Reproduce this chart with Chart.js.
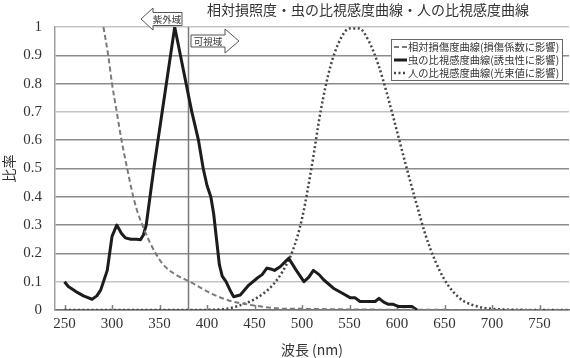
<!DOCTYPE html>
<html>
<head>
<meta charset="utf-8">
<script src="https://cdn.jsdelivr.net/npm/chart.js@4"></script>
<style>
  html, body { margin: 0; padding: 0; background: #fff; }
  #wrap { width: 570px; height: 358px; position: relative; }
</style>
</head>
<body>
<div id="wrap"><canvas id="spectrumChart"></canvas></div>
<script>
const chartTitle = "相対損照度・虫の比視感度曲線・人の比視感度曲線";
const xTitle = "波長 (nm)";
const yTitle = "比率";
const xTicks = [250, 300, 350, 400, 450, 500, 550, 600, 650, 700, 750];
const uvBoundary = 380;
const uvLabel = "紫外域";
const visLabel = "可視域";

// 相対損傷度曲線
const damageNm  = [291, 296, 300, 305, 310, 316, 321, 326, 332, 339, 346, 354, 367, 382, 404, 425, 446, 467, 477, 500, 550, 600, 650, 700, 780];
const damageVal = [1.0, 0.9, 0.8, 0.7, 0.6, 0.5, 0.42, 0.355, 0.3, 0.245, 0.2, 0.16, 0.125, 0.1, 0.059, 0.032, 0.018, 0.008, 0.005, 0.004, 0.002, 0.001, 0.0005, 0, 0];

// 虫の比視感度曲線
const insectNm  = [250, 254, 262, 270, 279, 284, 288, 295, 300, 305, 310, 314, 320, 326, 330, 333, 336, 340, 344, 366, 372, 378, 384, 391, 396, 400, 404, 407, 410, 413, 416, 420, 425, 428, 435, 444, 453, 458, 463, 467, 471, 477, 484, 486, 494, 502, 507, 512, 518, 523, 533, 542, 551, 556, 561, 577, 581, 586, 591, 596, 602, 616, 621];
const insectVal = [0.10, 0.083, 0.065, 0.05, 0.038, 0.05, 0.07, 0.14, 0.26, 0.30, 0.27, 0.255, 0.25, 0.25, 0.248, 0.265, 0.30, 0.40, 0.50, 1.0, 0.9, 0.8, 0.7, 0.6, 0.5, 0.44, 0.40, 0.34, 0.25, 0.16, 0.12, 0.10, 0.065, 0.047, 0.053, 0.088, 0.113, 0.125, 0.148, 0.145, 0.14, 0.153, 0.176, 0.183, 0.14, 0.10, 0.115, 0.14, 0.125, 0.106, 0.077, 0.06, 0.043, 0.043, 0.03, 0.03, 0.041, 0.028, 0.02, 0.02, 0.012, 0.012, 0];

// 人の比視感度曲線
const humanNm  = [250, 300, 350, 380, 390, 400, 410, 420, 430, 440, 450, 460, 470, 480, 490, 500, 510, 520, 530, 540, 550, 560, 570, 580, 590, 600, 610, 620, 630, 640, 650, 660, 670, 680, 690, 700, 710, 720, 730, 740, 750, 760, 770, 780];
const humanVal = [0, 0, 0, 0.00004, 0.00012, 0.0004, 0.0012, 0.004, 0.0116, 0.023, 0.038, 0.06, 0.091, 0.139, 0.208, 0.323, 0.503, 0.71, 0.862, 0.954, 0.995, 0.995, 0.952, 0.87, 0.757, 0.631, 0.503, 0.381, 0.265, 0.175, 0.107, 0.061, 0.032, 0.017, 0.0082, 0.0041, 0.0021, 0.00105, 0.00052, 0.00025, 0.00012, 0.00006, 0.00003, 0.000015];

const legendLabels = [
    "相対損傷度曲線(損傷係数に影響)",
    "虫の比視感度曲線(誘虫性に影響)",
    "人の比視感度曲線(光束値に影響)"
];

const serif = "'Liberation Serif', 'DejaVu Serif', serif";
const jp = "'Noto Sans CJK JP', sans-serif";

function toPoints(xs, ys) {
    return xs.map((x, i) => ({ x: x, y: ys[i] }));
}

function arrowBox(ctx, x0, x1, cy, headW, bodyH, headH, dir) {
    ctx.beginPath();
    if (dir < 0) {
        ctx.moveTo(x0, cy);
        ctx.lineTo(x0 + headW, cy - headH);
        ctx.lineTo(x0 + headW, cy - bodyH);
        ctx.lineTo(x1, cy - bodyH);
        ctx.lineTo(x1, cy + bodyH);
        ctx.lineTo(x0 + headW, cy + bodyH);
        ctx.lineTo(x0 + headW, cy + headH);
    } else {
        ctx.moveTo(x1, cy);
        ctx.lineTo(x1 - headW, cy - headH);
        ctx.lineTo(x1 - headW, cy - bodyH);
        ctx.lineTo(x0, cy - bodyH);
        ctx.lineTo(x0, cy + bodyH);
        ctx.lineTo(x1 - headW, cy + bodyH);
        ctx.lineTo(x1 - headW, cy + headH);
    }
    ctx.closePath();
    ctx.fillStyle = "#fff";
    ctx.fill();
    ctx.strokeStyle = "#555";
    ctx.lineWidth = 1;
    ctx.stroke();
}

// 380nm line, inward ticks, arrows, title and legend
const extras = {
    id: "extras",
    beforeDatasetsDraw(chart) {
        const ctx = chart.ctx;
        const area = chart.chartArea;
        const xs = chart.scales.x;
        ctx.save();
        ctx.strokeStyle = "#808080";
        ctx.lineWidth = 1.5;
        xTicks.forEach(v => {
            const px = Math.round(xs.getPixelForValue(v)) + 0.5;
            ctx.beginPath();
            ctx.moveTo(px, area.bottom);
            ctx.lineTo(px, area.bottom - 5);
            ctx.stroke();
        });
        const lx = Math.round(xs.getPixelForValue(uvBoundary)) + 0.5;
        ctx.strokeStyle = "#7a7a7a";
        ctx.lineWidth = 1.5;
        ctx.beginPath();
        ctx.moveTo(lx, area.top);
        ctx.lineTo(lx, area.bottom);
        ctx.stroke();
        ctx.restore();
    },
    afterDraw(chart) {
        const ctx = chart.ctx;
        const xs = chart.scales.x;
        const lx = xs.getPixelForValue(uvBoundary);
        ctx.save();

        // title
        ctx.fillStyle = "#333";
        ctx.font = "14px " + jp;
        ctx.textAlign = "center";
        ctx.textBaseline = "middle";
        ctx.fillText(chartTitle, 368, 10);

        // callouts
        arrowBox(ctx, lx - 47, lx - 6, 19, 12, 6.5, 11, -1);
        arrowBox(ctx, lx + 3, lx + 51, 41, 14, 6, 12, 1);
        ctx.fillStyle = "#333";
        ctx.font = "9.5px " + jp;
        ctx.fillText(uvLabel, lx - 21, 19.5);
        ctx.fillText(visLabel, lx + 20, 41.5);

        // legend
        const bx = 391, by = 39.5, bw = 171, bh = 41;
        ctx.fillStyle = "#fff";
        ctx.fillRect(bx, by, bw, bh);
        ctx.strokeStyle = "#666";
        ctx.lineWidth = 1;
        ctx.strokeRect(bx + 0.5, by, bw, bh);
        chart.data.datasets.forEach((ds, i) => {
            const cy = by + 7.5 + i * 13;
            ctx.save();
            ctx.strokeStyle = ds.borderColor;
            ctx.lineWidth = ds.borderWidth;
            ctx.setLineDash(ds.borderDash || []);
            ctx.beginPath();
            ctx.moveTo(bx + 3, cy);
            ctx.lineTo(bx + 16, cy);
            ctx.stroke();
            ctx.restore();
            ctx.fillStyle = "#333";
            ctx.font = "10.3px " + jp;
            ctx.textAlign = "left";
            ctx.fillText(legendLabels[i], bx + 17, cy + 0.5);
        });
        ctx.restore();
    }
};

new Chart("spectrumChart", {
    type: "line",
    data: {
        datasets: [{
            label: legendLabels[0],
            data: toPoints(damageNm, damageVal),
            borderColor: "#7a7a7a",
            borderWidth: 2,
            borderDash: [5, 3],
            cubicInterpolationMode: "monotone",
            pointRadius: 0,
            fill: false
        }, {
            label: legendLabels[1],
            data: toPoints(insectNm, insectVal),
            borderColor: "#1c1c1c",
            borderWidth: 3,
            borderJoinStyle: "round",
            pointRadius: 0,
            fill: false
        }, {
            label: legendLabels[2],
            data: toPoints(humanNm, humanVal),
            borderColor: "#444",
            borderWidth: 2.5,
            borderDash: [2, 2.5],
            cubicInterpolationMode: "monotone",
            pointRadius: 0,
            fill: false
        }]
    },
    options: {
        responsive: true,
        maintainAspectRatio: false,
        animation: false,
        layout: { padding: { top: 27, right: 1, left: 0, bottom: 0 } },
        plugins: {
            legend: { display: false },
            tooltip: { enabled: false }
        },
        scales: {
            x: {
                type: "linear",
                min: 240,
                max: 781,
                afterBuildTicks: axis => { axis.ticks = xTicks.map(v => ({ value: v })); },
                afterFit: scale => { scale.height = 48; },
                grid: { display: false, drawTicks: false },
                border: { color: "#707070", width: 1.5 },
                ticks: {
                    color: "#333",
                    font: { family: serif, size: 15 },
                    padding: 5,
                    maxRotation: 0
                },
                title: {
                    display: true,
                    text: xTitle,
                    color: "#333",
                    font: { family: jp, size: 14 },
                    padding: { top: 0, bottom: 0 }
                }
            },
            y: {
                min: 0,
                max: 1,
                afterFit: scale => { scale.width = 55; },
                grid: {
                    drawTicks: false,
                    lineWidth: 1.5,
                    color: c => {
                        const v = Math.round(c.tick.value * 10);
                        return (v === 1 || v === 7 || v === 10) ? "#c4c4c4" : "#8c8c8c";
                    }
                },
                border: { color: "#a0a0a0", width: 1.5 },
                ticks: {
                    stepSize: 0.1,
                    color: "#333",
                    font: { family: serif, size: 15 },
                    padding: 13,
                    callback: v => String(Number(v.toFixed(1)))
                },
                title: {
                    display: true,
                    text: yTitle,
                    color: "#333",
                    font: { family: jp, size: 14 },
                    padding: { top: 0, bottom: 0 }
                }
            }
        }
    },
    plugins: [extras]
});
</script>
</body>
</html>
